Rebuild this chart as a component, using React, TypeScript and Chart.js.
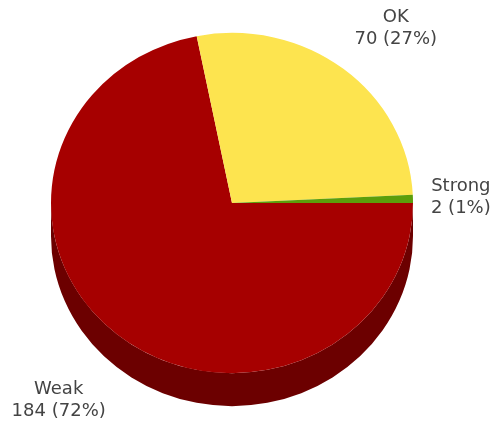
import React, { useEffect, useRef } from "react";
import { Chart, registerables } from "chart.js";

Chart.register(...registerables);

const categories = ["Weak", "OK", "Strong"];
const values = [184, 70, 2];
const percentLabels = ["72%", "27%", "1%"];
const topColors = ["#a60000", "#fde44f", "#5b9e0b"];
const sideColors = ["#6c0000", "#a8952f", "#3a6806"];

const TILT = 0.94;
const DEPTH = 33;
const LABEL_GAP_X = 18;
const LABEL_GAP_Y = 30;
const LINE_GAP = 22;

const pie3dPlugin = {
  id: "pie3d",
  beforeDatasetsDraw(chart: any) {
    const ctx = chart.ctx;
    const meta = chart.getDatasetMeta(0);
    const arcs = meta.data;
    if (!arcs.length) return;
    const cx = arcs[0].x;
    const cy = arcs[0].y;
    ctx.save();
    ctx.translate(cx, cy);
    ctx.scale(1, TILT);
    ctx.translate(-cx, -cy);
    const d = DEPTH / TILT;
    arcs.forEach((arc: any, i: number) => {
      const r = arc.outerRadius;
      const a1 = arc.startAngle;
      const a2 = arc.endAngle;
      const ranges: [number, number][] = [
        [0, Math.PI],
        [2 * Math.PI, 3 * Math.PI],
      ];
      ranges.forEach(([lo, hi]) => {
        const s = Math.max(a1, lo);
        const e = Math.min(a2, hi);
        if (e > s) {
          ctx.beginPath();
          ctx.arc(cx, cy + d, r, s, e, false);
          ctx.arc(cx, cy, r, e, s, true);
          ctx.closePath();
          ctx.fillStyle = sideColors[i];
          ctx.fill();
        }
      });
    });
  },
  afterDatasetsDraw(chart: any) {
    const ctx = chart.ctx;
    const meta = chart.getDatasetMeta(0);
    const arcs = meta.data;
    if (!arcs.length) return;
    ctx.restore();
    const cx = arcs[0].x;
    const cy = arcs[0].y;
    ctx.save();
    ctx.font = "18px 'DejaVu Sans', sans-serif";
    ctx.fillStyle = "#444444";
    ctx.textAlign = "center";
    ctx.textBaseline = "middle";
    arcs.forEach((arc: any, i: number) => {
      const mid = (arc.startAngle + arc.endAngle) / 2;
      const c = Math.cos(mid);
      const s = Math.sin(mid);
      const line1 = categories[i];
      const line2 = `${values[i]} (${percentLabels[i]})`;
      const hw = Math.max(ctx.measureText(line1).width, ctx.measureText(line2).width) / 2;
      const hh = LINE_GAP;
      const r = arc.outerRadius;
      const x = cx + c * (r + LABEL_GAP_X) + Math.sign(c) * hw;
      let y = cy + s * (r * TILT + LABEL_GAP_Y + hh);
      if (s > 0) y += DEPTH * s;
      ctx.fillText(line1, x, y - LINE_GAP / 2);
      ctx.fillText(line2, x, y + LINE_GAP / 2);
    });
    ctx.restore();
  },
};

export default function App() {
  const ref = useRef<HTMLCanvasElement>(null);
  useEffect(() => {
    document.body.style.margin = "0";
    const chart = new Chart(ref.current!, {
      type: "pie",
      data: {
        labels: categories,
        datasets: [
          {
            data: values,
            backgroundColor: topColors,
            borderWidth: 0,
            hoverOffset: 0,
            clip: false,
          } as any,
        ],
      },
      options: {
        responsive: false,
        animation: false,
        rotation: 90,
        layout: { padding: { left: 51, right: 84, top: 22, bottom: 40 } },
        plugins: {
          legend: { display: false },
          tooltip: { enabled: false },
        },
      },
      plugins: [pie3dPlugin],
    });
    return () => chart.destroy();
  }, []);
  return (
    <div style={{ width: 497, height: 424 }}>
      <canvas ref={ref} width={497} height={424} style={{ display: "block" }} />
    </div>
  );
}
